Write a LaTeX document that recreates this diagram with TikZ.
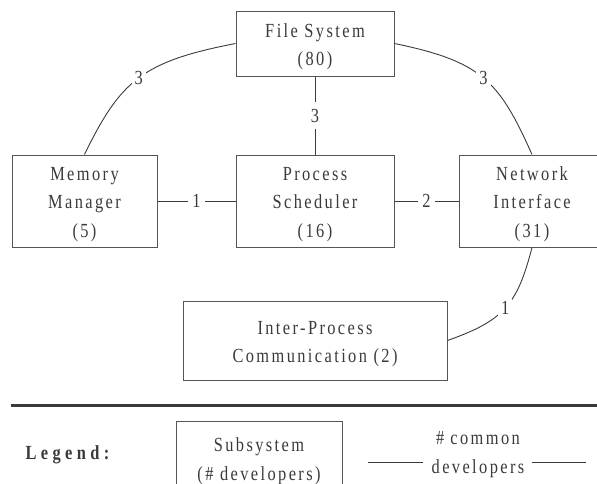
\documentclass[tikz,border=0pt]{standalone}
\usepackage{fontspec}
\setmainfont{Liberation Serif}[FakeStretch=0.82, LetterSpace=12]
\definecolor{ink}{RGB}{58,58,58}
\definecolor{frame}{RGB}{85,85,85}
\newcommand{\firstline}{\rule{0pt}{20pt}}
\begin{document}
\begin{tikzpicture}[x=1pt, y=-1pt,
  every node/.style={text=ink, font=\fontsize{20}{28.5}\selectfont},
  subsys/.style={draw=frame, line width=1pt, inner sep=0pt, align=center},
  link/.style={draw=ink, line width=0.9pt},
  lbl/.style={fill=white, inner xsep=4pt, inner ysep=7pt}]
\useasboundingbox (0,0) rectangle (597,483);
\clip (0,0) rectangle (597,483);

% subsystems
\node[subsys, minimum width=158pt, minimum height=65pt] (fs) at (315,43.5)
  {\firstline File System\\(80)};
\node[subsys, minimum width=145pt, minimum height=92pt] (mm) at (84.5,201)
  {\firstline Memory\\Manager\\(5)};
\node[subsys, minimum width=158pt, minimum height=92pt] (ps) at (315,201)
  {\firstline Process\\Scheduler\\(16)};
\node[subsys, minimum width=146pt, minimum height=92pt] (ni) at (532,201)
  {\firstline Network\\Interface\\(31)};
\node[subsys, minimum width=264pt, minimum height=79pt] (ipc) at (315,340.5)
  {\firstline Inter-Process\\Communication (2)};

% shared developers
\draw[link] (fs.south) -- node[lbl] (l1) {3} (ps.north);
\draw[link] (mm.east) -- node[lbl] (l2) {1} (ps.west);
\draw[link] (ps.east) -- node[lbl] (l3) {2} (ni.west);
\draw[link] (fs.west) .. controls +(-93,18) and +(36,-74) .. node[lbl, pos=0.5, inner sep=3pt] (l4) {3} (mm.north);
\draw[link] (fs.east) .. controls +(87,18) and +(-33,-74) .. node[lbl, pos=0.5, inner sep=3pt] (l5) {3} (ni.north);
\draw[link] (ni.south) .. controls +(-15,58) and +(56,-20) .. node[lbl, pos=0.5, inner sep=3pt] (l6) {1} (ipc.east);

% legend
\coordinate (r1) at (11,405.5);
\coordinate (r2) at (600,405.5);
\draw[draw=ink, line width=2.6pt] (r1) -- (r2);
\node[font=\fontsize{20}{28.5}\selectfont\bfseries\addfontfeatures{LetterSpace=22}] (leg) at (67.5,455) {Legend:};
\node[subsys, minimum width=166pt, minimum height=80pt] (lbox) at (259,461)
  {Subsystem\\(\# developers)};
\node[align=center] (ltxt) at (478,454.5) {\#\hspace{6pt}common\\developers};
\coordinate (a1) at (368,462);
\coordinate (a2) at (423,462);
\coordinate (b1) at (532,462);
\coordinate (b2) at (586,462);
\draw[link] (a1) -- (a2);
\draw[link] (b1) -- (b2);
\end{tikzpicture}
\end{document}
